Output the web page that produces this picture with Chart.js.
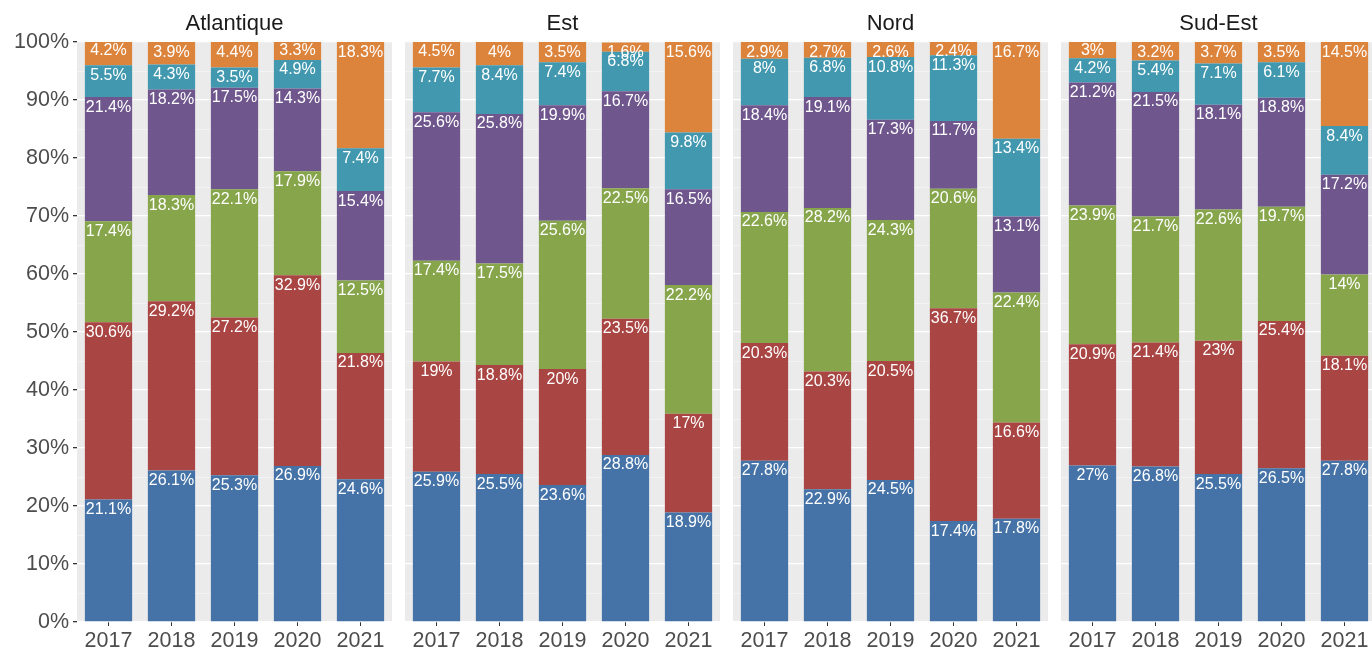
<!DOCTYPE html>
<html>
<head>
<meta charset="utf-8">
<script src="https://cdn.jsdelivr.net/npm/chart.js@4"></script>
<style>
  body { margin: 0; background: #fff; overflow: hidden; }
  #wrap { position: relative; width: 1372px; height: 649px; overflow: hidden; }
  canvas { position: absolute; top: 0; }
</style>
</head>
<body>
<div id="wrap">
  <canvas id="c0" width="392" height="649" style="left:0px"></canvas>
  <canvas id="c1" width="315" height="649" style="left:405px"></canvas>
  <canvas id="c2" width="315" height="649" style="left:733px"></canvas>
  <canvas id="c3" width="315" height="649" style="left:1061px"></canvas>
</div>
<script>
// facets and categories
const regions = ['Atlantique', 'Est', 'Nord', 'Sud-Est'];
const years = ['2017', '2018', '2019', '2020', '2021'];

// share (%) per series, one row per region (Atlantique, Est, Nord, Sud-Est)
const serie1 = [[21.1, 26.1, 25.3, 26.9, 24.6], [25.9, 25.5, 23.6, 28.8, 18.9], [27.8, 22.9, 24.5, 17.4, 17.8], [27, 26.8, 25.5, 26.5, 27.8]];
const serie2 = [[30.6, 29.2, 27.2, 32.9, 21.8], [19, 18.8, 20, 23.5, 17], [20.3, 20.3, 20.5, 36.7, 16.6], [20.9, 21.4, 23, 25.4, 18.1]];
const serie3 = [[17.4, 18.3, 22.1, 17.9, 12.5], [17.4, 17.5, 25.6, 22.5, 22.2], [22.6, 28.2, 24.3, 20.6, 22.4], [23.9, 21.7, 22.6, 19.7, 14]];
const serie4 = [[21.4, 18.2, 17.5, 14.3, 15.4], [25.6, 25.8, 19.9, 16.7, 16.5], [18.4, 19.1, 17.3, 11.7, 13.1], [21.2, 21.5, 18.1, 18.8, 17.2]];
const serie5 = [[5.5, 4.3, 3.5, 4.9, 7.4], [7.7, 8.4, 7.4, 6.8, 9.8], [8, 6.8, 10.8, 11.3, 13.4], [4.2, 5.4, 7.1, 6.1, 8.4]];
const serie6 = [[4.2, 3.9, 4.4, 3.3, 18.3], [4.5, 4, 3.5, 1.6, 15.6], [2.9, 2.7, 2.6, 2.4, 16.7], [3, 3.2, 3.7, 3.5, 14.5]];

const allSeries = [serie1, serie2, serie3, serie4, serie5, serie6];
const colors = ['#4573A7', '#A94542', '#87A64C', '#6F578E', '#4198AF', '#DD843C'];
const FONT = "'Liberation Sans', Arial, sans-serif";

const panelBg = {
  id: 'panelBg',
  beforeDraw(chart) {
    const a = chart.chartArea, ctx = chart.ctx;
    ctx.save();
    ctx.fillStyle = '#EBEBEB';
    ctx.fillRect(a.left, a.top, a.right - a.left, a.bottom - a.top);
    ctx.restore();
  }
};

const barLabels = {
  id: 'barLabels',
  afterDatasetsDraw(chart) {
    const ctx = chart.ctx;
    ctx.save();
    ctx.font = '16px ' + FONT;
    ctx.fillStyle = '#FFFFFF';
    ctx.textAlign = 'center';
    ctx.textBaseline = 'alphabetic';
    chart.data.datasets.forEach((ds, i) => {
      chart.getDatasetMeta(i).data.forEach((bar, j) => {
        ctx.fillText(ds.data[j] + '%', bar.x, bar.y + 14.5);
      });
    });
    ctx.restore();
  }
};

const stripTitle = {
  id: 'stripTitle',
  afterDraw(chart, args, opts) {
    const a = chart.chartArea, ctx = chart.ctx;
    ctx.save();
    ctx.font = '22px ' + FONT;
    ctx.fillStyle = '#1A1A1A';
    ctx.textAlign = 'center';
    ctx.textBaseline = 'middle';
    ctx.fillText(opts.text, (a.left + a.right) / 2, 23.5);
    ctx.restore();
  }
};

regions.forEach((region, r) => {
  const first = r === 0;
  new Chart(document.getElementById('c' + r), {
    type: 'bar',
    data: {
      labels: years,
      datasets: allSeries.map((s, k) => ({
        label: 'Série ' + (k + 1),
        data: s[r],
        backgroundColor: colors[k],
        borderWidth: 0,
        categoryPercentage: 1,
        barPercentage: 0.75
      }))
    },
    options: {
      responsive: false,
      animation: false,
      layout: { padding: { top: 42, left: 0, right: 0, bottom: 0 } },
      plugins: {
        legend: { display: false },
        tooltip: { enabled: false },
        stripTitle: { text: region }
      },
      scales: {
        x: {
          stacked: true,
          offset: true,
          border: { display: false },
          grid: { drawOnChartArea: false, offset: false, drawTicks: true, tickLength: 4, tickColor: '#333333', tickWidth: 1 },
          ticks: { color: '#4D4D4D', font: { family: FONT, size: 21.5 }, padding: 2, maxRotation: 0 },
          afterFit(scale) { scale.height = 27; }
        },
        y: {
          stacked: true,
          min: 0,
          max: 100,
          border: { display: false },
          grid: {
            color: ctx => ctx.tick && ctx.tick.value % 10 === 0 ? '#FFFFFF' : 'rgba(255,255,255,0.6)',
            lineWidth: ctx => ctx.tick && ctx.tick.value % 10 === 0 ? 1.3 : 0.7,
            drawTicks: first,
            tickLength: 4,
            tickColor: ctx => ctx.tick && ctx.tick.value % 10 === 0 ? '#333333' : 'rgba(0,0,0,0)'
          },
          ticks: {
            display: first,
            stepSize: 5,
            autoSkip: false,
            padding: 4,
            color: '#4D4D4D',
            font: { family: FONT, size: 21.5 },
            callback: v => v % 10 === 0 ? v + '%' : ''
          },
          afterFit(scale) { scale.width = first ? 77 : 0; }
        }
      }
    },
    plugins: [panelBg, barLabels, stripTitle]
  });
});
</script>
</body>
</html>
